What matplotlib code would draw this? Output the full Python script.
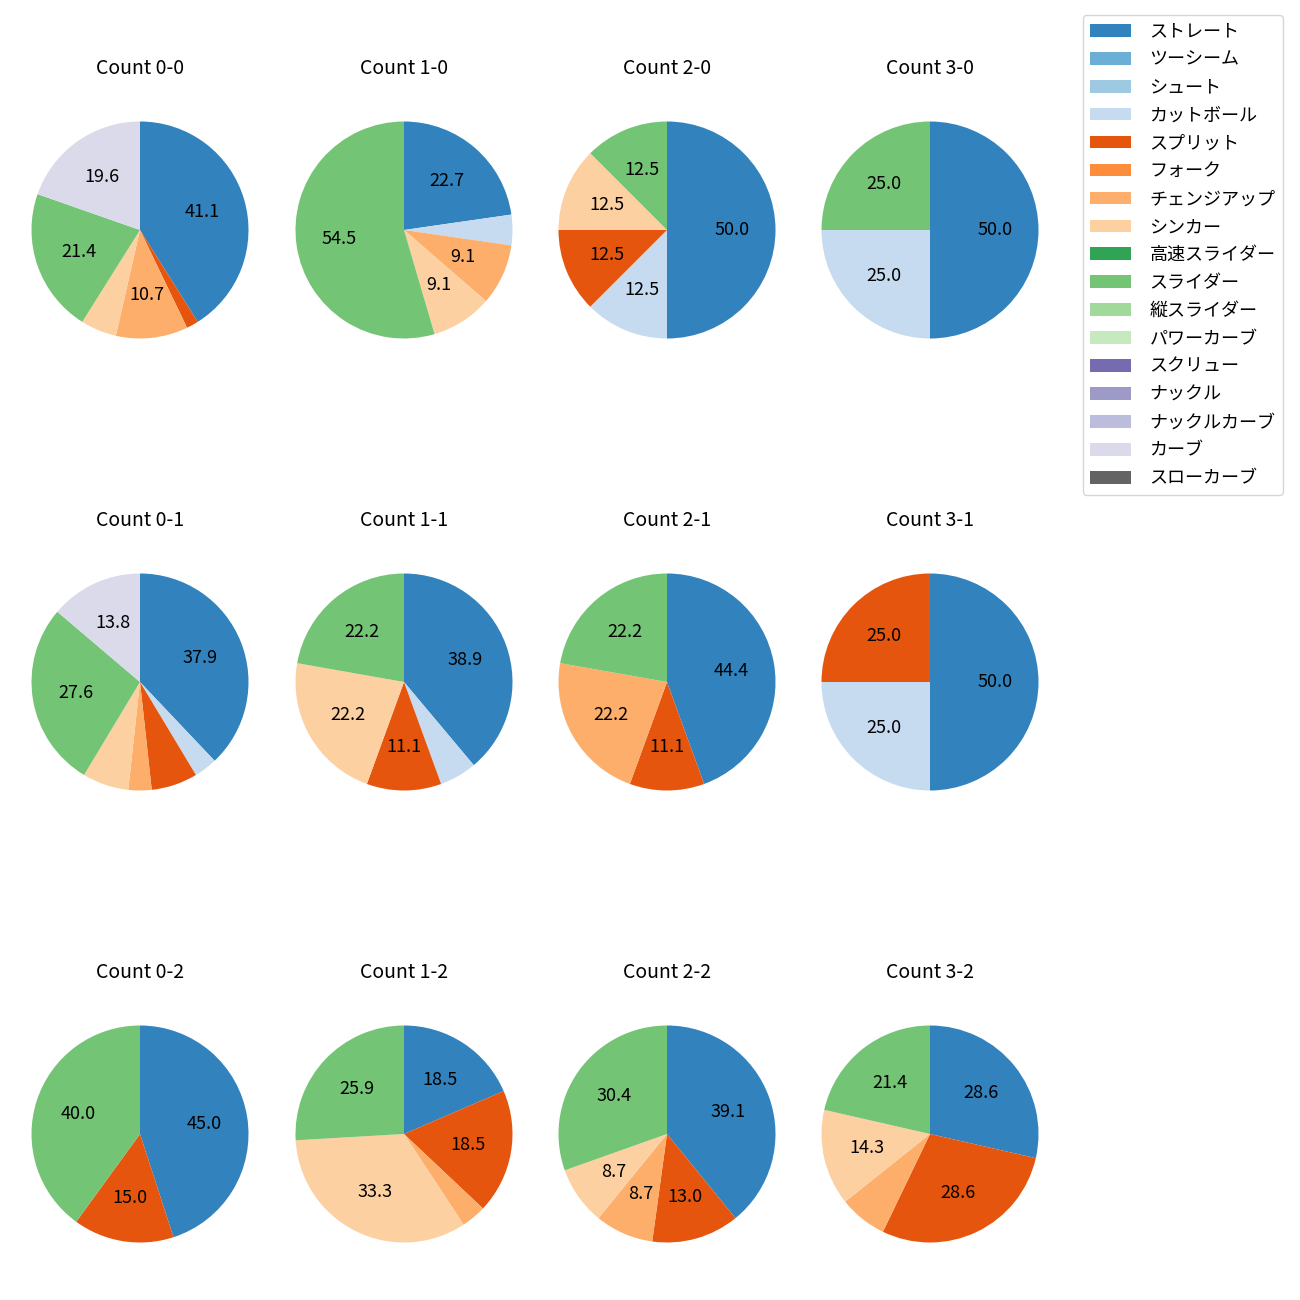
import matplotlib
matplotlib.use('Agg')
import matplotlib.pyplot as plt
from matplotlib.patches import Patch

plt.rcParams['font.family'] = ['Noto Sans CJK JP', 'DejaVu Sans']
plt.rcParams['font.size'] = 12

# pitch types, in legend order (tab20c index = position)
pitch_types = ['ストレート', 'ツーシーム', 'シュート', 'カットボール', 'スプリット', 'フォーク',
               'チェンジアップ', 'シンカー', '高速スライダー', 'スライダー', '縦スライダー',
               'パワーカーブ', 'スクリュー', 'ナックル', 'ナックルカーブ', 'カーブ', 'スローカーブ']

# pitches thrown per ball-strike count
counts_00 = {'ストレート': 23, 'スプリット': 1, 'チェンジアップ': 6, 'シンカー': 3, 'スライダー': 12, 'カーブ': 11}
counts_10 = {'ストレート': 5, 'カットボール': 1, 'チェンジアップ': 2, 'シンカー': 2, 'スライダー': 12}
counts_20 = {'ストレート': 4, 'カットボール': 1, 'スプリット': 1, 'シンカー': 1, 'スライダー': 1}
counts_30 = {'ストレート': 2, 'カットボール': 1, 'スライダー': 1}
counts_01 = {'ストレート': 11, 'カットボール': 1, 'スプリット': 2, 'チェンジアップ': 1, 'シンカー': 2, 'スライダー': 8, 'カーブ': 4}
counts_11 = {'ストレート': 7, 'カットボール': 1, 'スプリット': 2, 'シンカー': 4, 'スライダー': 4}
counts_21 = {'ストレート': 4, 'スプリット': 1, 'チェンジアップ': 2, 'スライダー': 2}
counts_31 = {'ストレート': 2, 'カットボール': 1, 'スプリット': 1}
counts_02 = {'ストレート': 9, 'スプリット': 3, 'スライダー': 8}
counts_12 = {'ストレート': 5, 'スプリット': 5, 'チェンジアップ': 1, 'シンカー': 9, 'スライダー': 7}
counts_22 = {'ストレート': 9, 'スプリット': 3, 'チェンジアップ': 2, 'シンカー': 2, 'スライダー': 7}
counts_32 = {'ストレート': 4, 'スプリット': 4, 'チェンジアップ': 1, 'シンカー': 2, 'スライダー': 3}

grid = [
    [('Count 0-0', counts_00), ('Count 1-0', counts_10), ('Count 2-0', counts_20), ('Count 3-0', counts_30)],
    [('Count 0-1', counts_01), ('Count 1-1', counts_11), ('Count 2-1', counts_21), ('Count 3-1', counts_31)],
    [('Count 0-2', counts_02), ('Count 1-2', counts_12), ('Count 2-2', counts_22), ('Count 3-2', counts_32)],
]

cmap = plt.get_cmap('tab20c')
colors = [cmap(i) for i in range(len(pitch_types))]

fig = plt.figure(figsize=(13, 13), dpi=100)

W, H = 1300, 1300
cx = [140, 404, 667, 930]
cy = [230, 682, 1134]
r = 108.5
half = 1.25 * r

for i, row in enumerate(grid):
    for j, (title, counts) in enumerate(row):
        ax = fig.add_axes([(cx[j] - half) / W, 1 - (cy[i] + half) / H, 2 * half / W, 2 * half / H])
        names = [p for p in pitch_types if p in counts]
        vals = [counts[p] for p in names]
        cols = [colors[pitch_types.index(p)] for p in names]
        ax.pie(vals, colors=cols, startangle=90, counterclock=False,
               autopct=lambda p: f'{p:.1f}' if p >= 8 else '', pctdistance=0.6,
               textprops={'fontsize': 13})
        ax.set_xlim(-1.25, 1.25)
        ax.set_ylim(-1.25, 1.25)
        ax.set_title(title, fontsize=14, pad=15)

handles = [Patch(facecolor=c) for c in colors]
fig.legend(handles, pitch_types, loc='upper right', bbox_to_anchor=(1288 / W, 1 - 10 / H),
           fontsize=13, handlelength=2.3, handletextpad=1.0, labelspacing=0.55, borderaxespad=0.3)

fig.savefig('out.png', dpi=100)
